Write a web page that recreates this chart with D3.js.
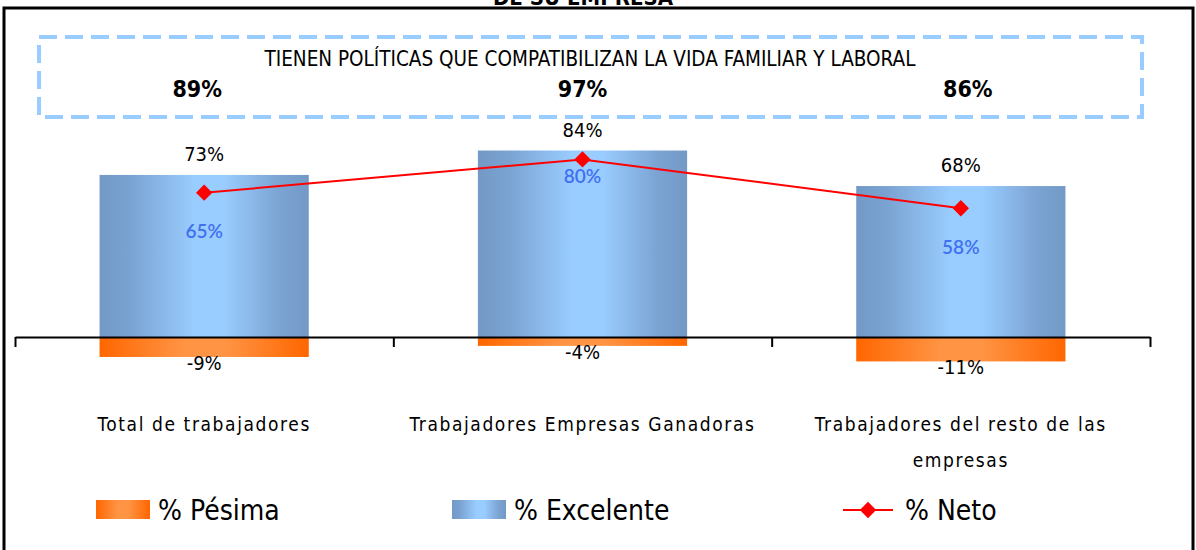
<!DOCTYPE html>
<html>
<head>
<meta charset="utf-8">
<script src="https://d3js.org/d3.v7.min.js"></script>
<style type="text/css">
    body { margin: 0; background: #fff; }
    svg { font-family: "DejaVu Sans Condensed", sans-serif; }
    .cat { font-size: 19px; letter-spacing: 1.6px; fill: #000; }
    .val { font-size: 20px; fill: #000; }
    .neto { font-family: Lato, sans-serif; font-size: 19px; font-weight: 600; fill: #4070f0; }
    .legend { font-size: 28px; fill: #000; }
</style>
</head>
<body>
<svg width="1196" height="550"></svg>
<script>
    var categorias = ["Total de trabajadores", "Trabajadores Empresas Ganadoras", "Trabajadores del resto de las empresas"];
    var excelente = [73, 84, 68];
    var pesima = [-9, -4, -11];
    var neto = [65, 80, 58];
    var politicas = [89, 97, 86];

    var svg = d3.select("svg");

    var defs = svg.append("defs");
    var gBlue = defs.append("linearGradient").attr("id", "gBlue");
    gBlue.append("stop").attr("offset", "0%").attr("stop-color", "#7399c6");
    gBlue.append("stop").attr("offset", "15%").attr("stop-color", "#7aa3d2");
    gBlue.append("stop").attr("offset", "45%").attr("stop-color", "#99ccff");
    gBlue.append("stop").attr("offset", "60%").attr("stop-color", "#99ccff");
    gBlue.append("stop").attr("offset", "85%").attr("stop-color", "#7ca5d4");
    gBlue.append("stop").attr("offset", "100%").attr("stop-color", "#7399c6");
    var gOrange = defs.append("linearGradient").attr("id", "gOrange");
    gOrange.append("stop").attr("offset", "0%").attr("stop-color", "#ff6600");
    gOrange.append("stop").attr("offset", "40%").attr("stop-color", "#ff9444");
    gOrange.append("stop").attr("offset", "60%").attr("stop-color", "#ff9444");
    gOrange.append("stop").attr("offset", "100%").attr("stop-color", "#ff6600");

    // marco y titulo cortado
    svg.append("rect").attr("x", 4).attr("y", 8).attr("width", 1189).attr("height", 545)
        .attr("fill", "none").attr("stroke", "#000").attr("stroke-width", 3);
    svg.append("text").attr("x", 583).attr("y", 5).attr("text-anchor", "middle")
        .style("font-weight", "bold").style("font-size", "22px")
        .text("DE SU EMPRESA");

    var x = d3.scaleBand().domain(categorias).range([15, 1150]).paddingInner(0.447).paddingOuter(0.2235);
    var xt = d3.scaleLinear().domain([0, 3]).range([15, 1150]);
    var y = d3.scaleLinear().domain([-20, 100]).range([381.4, 115]);
    var cx = i => x(categorias[i]) + x.bandwidth() / 2;

    // barras
    svg.selectAll(".exc").data(excelente).enter().append("rect")
        .attr("x", (d, i) => x(categorias[i])).attr("width", x.bandwidth())
        .attr("y", d => y(d)).attr("height", d => y(0) - y(d))
        .attr("fill", "url(#gBlue)");
    svg.selectAll(".pes").data(pesima).enter().append("rect")
        .attr("x", (d, i) => x(categorias[i])).attr("width", x.bandwidth())
        .attr("y", y(0)).attr("height", d => y(d) - y(0))
        .attr("fill", "url(#gOrange)");

    // eje
    svg.append("g").attr("transform", `translate(0, ${y(0)})`)
        .call(d3.axisBottom(xt).tickValues([0, 1, 2, 3]).tickSizeInner(10).tickSizeOuter(0).tickFormat(""))
        .call(g => g.selectAll("line, path").attr("stroke", "#000").attr("stroke-width", 2));

    // etiquetas
    svg.selectAll(".vexc").data(excelente).enter().append("text").attr("class", "val")
        .attr("x", (d, i) => cx(i)).attr("y", d => y(d) - 14)
        .attr("text-anchor", "middle").text(d => d + "%");
    svg.selectAll(".vpes").data(pesima).enter().append("text").attr("class", "val")
        .attr("x", (d, i) => cx(i)).attr("y", d => y(d) + 13)
        .attr("text-anchor", "middle").text(d => d + "%");

    // linea neto
    var line = d3.line().x((d, i) => cx(i)).y(d => y(d));
    svg.append("path").datum(neto).attr("d", line).attr("fill", "none")
        .attr("stroke", "#ff0000").attr("stroke-width", 2);
    svg.selectAll(".mk").data(neto).enter().append("path")
        .attr("d", d3.symbol(d3.symbolDiamond2, 170))
        .attr("transform", (d, i) => `translate(${cx(i)}, ${y(d)})`)
        .attr("fill", "#ff0000");
    var netoOff = [45, 24, 46];
    svg.selectAll(".vneto").data(neto).enter().append("text").attr("class", "neto")
        .attr("x", (d, i) => cx(i)).attr("y", (d, i) => y(d) + netoOff[i])
        .attr("text-anchor", "middle").text(d => d + "%");

    // recuadro punteado
    svg.append("rect").attr("x", 39).attr("y", 37).attr("width", 1103).attr("height", 80)
        .attr("fill", "none").attr("stroke", "#99ccff").attr("stroke-width", 4)
        .attr("stroke-dasharray", "18 8");
    svg.append("text").attr("x", 590).attr("y", 66).attr("text-anchor", "middle")
        .style("font-size", "20.5px").text("TIENEN POLÍTICAS QUE COMPATIBILIZAN LA VIDA FAMILIAR Y LABORAL");
    svg.selectAll(".pol").data(politicas).enter().append("text")
        .attr("x", (d, i) => cx(i) + [-7, 0, 7][i]).attr("y", 97)
        .attr("text-anchor", "middle").style("font-weight", "bold").style("font-size", "23px")
        .text(d => d + "%");

    // categorias
    var catLines = [["Total de trabajadores"], ["Trabajadores Empresas Ganadoras"], ["Trabajadores del resto de las", "empresas"]];
    catLines.forEach(function(ls, i) {
        ls.forEach(function(s, j) {
            svg.append("text").attr("class", "cat")
                .attr("x", cx(i)).attr("y", 431 + j * 36)
                .attr("text-anchor", "middle").text(s);
        });
    });

    // leyenda
    var lg = svg.append("g");
    lg.append("rect").attr("x", 96).attr("y", 500).attr("width", 54).attr("height", 19).attr("fill", "url(#gOrange)");
    lg.append("text").attr("class", "legend").attr("x", 158).attr("y", 520).text("% Pésima");
    lg.append("rect").attr("x", 452).attr("y", 500).attr("width", 54).attr("height", 19).attr("fill", "url(#gBlue)");
    lg.append("text").attr("class", "legend").attr("x", 514).attr("y", 520).text("% Excelente");
    lg.append("line").attr("x1", 843).attr("x2", 893).attr("y1", 510).attr("y2", 510).attr("stroke", "#ff0000").attr("stroke-width", 2);
    lg.append("path").attr("d", d3.symbol(d3.symbolDiamond2, 170)).attr("transform", "translate(868,510)").attr("fill", "#ff0000");
    lg.append("text").attr("class", "legend").attr("x", 905).attr("y", 520).text("% Neto");
</script>
</body>
</html>
